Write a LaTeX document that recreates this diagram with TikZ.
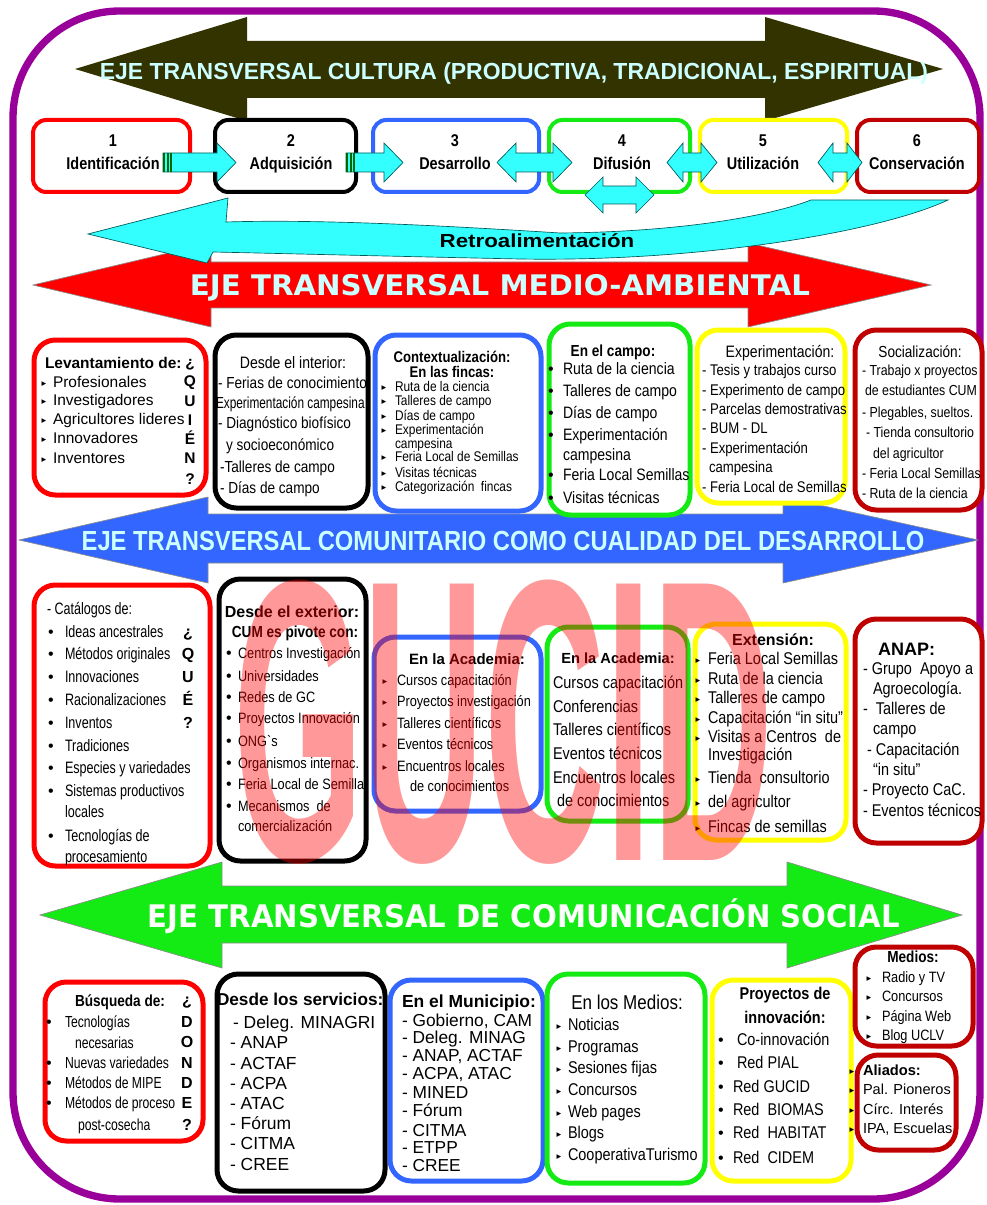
\documentclass[tikz,border=0pt]{standalone}
\usepackage{fontspec}
\usepackage{graphicx}
\setmainfont{Liberation Sans}
\newfontfamily\nar{Liberation Sans}[FakeStretch=0.85]
\newfontfamily\nnar{Liberation Sans}[FakeStretch=0.76]
\newfontfamily\dejavu{DejaVu Sans}
\usetikzlibrary{fit}
\definecolor{myred}{RGB}{255,0,0}
\definecolor{myblue}{RGB}{51,102,255}
\definecolor{mygreen}{RGB}{20,235,20}
\definecolor{myyellow}{RGB}{255,255,0}
\definecolor{mydred}{RGB}{192,0,0}
\definecolor{mypurple}{RGB}{153,0,153}
\definecolor{myolive}{RGB}{51,51,0}
\definecolor{mycyan}{RGB}{51,255,255}
\definecolor{lcyan}{RGB}{204,255,255}
\newcommand\fsz[1]{\fontsize{#1pt}{#1pt}\selectfont}
\newcommand\capfit[3]{\resizebox{#1}{#2}{\smash{#3}\vphantom{E}}}
\newcommand\tri{{\dejavu\fontsize{7pt}{7pt}\selectfont ▸}}
\tikzset{
 txt/.style={anchor=base west, inner sep=0pt, outer sep=0pt},
 ctxt/.style={anchor=base, inner sep=0pt, outer sep=0pt},
 bx/.style={rounded corners=16pt, line width=3.75pt, fill=white, inner sep=0pt},
 pbx/.style={rounded corners=10pt, line width=3pt, fill=white, inner sep=0pt},
 cyarr/.style={fill=mycyan, draw=teal!70!black, line width=0.5pt},
 bigarr/.style={draw=black!45, line width=0.5pt}
}
\newcommand\boxat[7]{%
  \coordinate (#1a) at (#3+2,#4+2); \coordinate (#1b) at (#5-2,#6-2);
  \node[#2, draw=#7, fit=(#1a)(#1b)] (#1) {};}
\newcommand\txtlines[3]{\foreach \xx/\yy/\tx in {#3}{\node[txt, font=#2] (#1-\yy) at (\xx,\yy) {\tx};}}
\newcommand\dotb[3]{\foreach \yy in {#3}{\node[ctxt] (#1-\yy) at (#2,\yy) {\fsz{12}•};}}
\newcommand\trib[3]{\foreach \yy in {#3}{\node[ctxt] (#1-\yy) at (#2,\yy) {\tri};}}
\begin{document}
\begin{tikzpicture}[x=0.75pt, y=-0.75pt]
\useasboundingbox (0,0) rectangle (986,1205);
\fill[white] (0,0) rectangle (986,1205);
% frame
\draw[mypurple, line width=5.5pt, rounded corners=80pt] (13,11) rectangle (980,1199);
% top arrow
\fill[myolive] (75,69) -- (247,17) -- (247,41) -- (765,41) -- (765,17) -- (943,69) -- (765,121) -- (765,98) -- (247,98) -- (247,121) -- cycle;
\node[ctxt, text=lcyan, font=\bfseries] (ejecult) at (514,80) {\capfit{621pt}{12pt}{EJE TRANSVERSAL CULTURA (PRODUCTIVA, TRADICIONAL, ESPIRITUAL)}};
% red arrow
\filldraw[bigarr, fill=myred] (33,285) -- (211,243) -- (211,262) -- (748,262) -- (748,243) -- (931,285) -- (748,327) -- (748,308) -- (211,308) -- (211,327) -- cycle;
\node[ctxt, text=lcyan, font=\dejavu\bfseries] (ejema) at (500,296) {\capfit{465pt}{15.5pt}{EJE TRANSVERSAL MEDIO-AMBIENTAL}};
% blue arrow
\filldraw[bigarr, fill=myblue] (19,540) -- (208,497) -- (208,514) -- (783,514) -- (783,497) -- (978,540) -- (783,583) -- (783,563) -- (208,563) -- (208,583) -- cycle;
\node[ctxt, text=lcyan, font=\bfseries] (ejecom) at (503,550) {\capfit{632pt}{14.25pt}{EJE TRANSVERSAL COMUNITARIO COMO CUALIDAD DEL DESARROLLO}};
% green arrow
\filldraw[bigarr, fill=mygreen] (40,915) -- (222,862) -- (222,886) -- (787,886) -- (787,862) -- (962,915) -- (787,968) -- (787,943) -- (222,943) -- (222,968) -- cycle;
\node[ctxt, text=white, font=\dejavu\bfseries] (ejecs) at (524,927) {\capfit{564pt}{17pt}{EJE TRANSVERSAL DE COMUNICACIÓN SOCIAL}};

% row 1 process boxes
\boxat{p1}{pbx}{31}{118}{192}{194}{myred}
\boxat{p2}{pbx}{213}{118}{358}{194}{black}
\boxat{p3}{pbx}{371}{118}{541}{194}{myblue}
\boxat{p4}{pbx}{547}{118}{692}{194}{mygreen}
\boxat{p5}{pbx}{698}{118}{849}{194}{myyellow}
\boxat{p6}{pbx}{855}{118}{981}{194}{mydred}
\foreach \nm/\xc/\lab in {1/113/Identificación, 2/291/Adquisición, 3/455/Desarrollo, 4/622/Difusión, 5/763/Utilización, 6/917/Conservación}{
  \node[ctxt, font=\nar\bfseries\fsz{12.75}] (n\nm) at (\xc,147) {\nm};
  \node[ctxt, font=\nar\bfseries\fsz{12.75}] (l\nm) at (\xc,170) {\lab};
}
% retroalimentacion
\filldraw[cyarr] (948,200) .. controls (880,232) and (700,262) .. (520,259) .. controls (380,256) and (260,253) .. (213,252) -- (207,263) -- (88,234) -- (228,198) -- (226,222) .. controls (320,219) and (450,226) .. (560,233) .. controls (680,232) and (770,216) .. (811,200) -- cycle;
\node[ctxt, font=\nar\bfseries] (retro) at (537,248) {\capfit{146pt}{9.75pt}{Retroalimentación}};
% cyan arrows row 1
\filldraw[cyarr] (163,153) -- (217,153) -- (217,143) -- (236,162.5) -- (217,182) -- (217,172) -- (163,172) -- cycle;
\filldraw[cyarr] (346,153) -- (384,153) -- (384,143) -- (403,162.5) -- (384,182) -- (384,172) -- (346,172) -- cycle;
\foreach \i in {0,1,2}{\fill[green!40!black] (163+\i*3.5,153) rectangle ++(2,19); \fill[green!40!black] (346+\i*3.5,153) rectangle ++(2,19);}
\filldraw[cyarr] (497,162.5) -- (516,143) -- (516,153) -- (553,153) -- (553,143) -- (572,162.5) -- (553,182) -- (553,172) -- (516,172) -- (516,182) -- cycle;
\filldraw[cyarr] (667,162.5) -- (683,143) -- (683,153) -- (701,153) -- (701,143) -- (717,162.5) -- (701,182) -- (701,172) -- (683,172) -- (683,182) -- cycle;
\filldraw[cyarr] (818,162.5) -- (833,143) -- (833,153) -- (847,153) -- (847,143) -- (862,162.5) -- (847,182) -- (847,172) -- (833,172) -- (833,182) -- cycle;
\filldraw[cyarr] (585,195) -- (603,177) -- (603,186) -- (636,186) -- (636,177) -- (654,195) -- (636,213) -- (636,204) -- (603,204) -- (603,213) -- cycle;

% ===== row 2 =====
\boxat{b21}{bx}{32}{338}{208}{497}{myred}
\boxat{b22}{bx}{213}{333}{370}{510}{black}
\boxat{b23}{bx}{373}{333}{543}{513}{myblue}
\boxat{b24}{bx}{547}{322}{692}{517}{mygreen}
\boxat{b25}{bx}{695}{328}{847}{505}{myyellow}
\boxat{b26}{bx}{853}{328}{984}{512}{mydred}
\node[txt, font=\bfseries\fsz{11.6}] (t21) at (45,368) {Levantamiento de:};
\txtlines{r21}{\fsz{11.6}}{53/387/Profesionales, 53/405/Investigadores, 53/424/Agricultores lideres, 53/443/Innovadores, 53/463/Inventores}
\trib{r21b}{44}{386,404,423,442,462}
\foreach \yy/\ch in {367/¿, 386/Q, 406/U, 425/I, 444/É, 463/N, 484/?}{\node[ctxt, font=\bfseries\fsz{11.6}] (q21-\yy) at (190,\yy) {\ch};}

\node[ctxt, font=\nar\fsz{12.4}] (t22) at (293,368) {Desde el interior:};
\txtlines{r22}{\nar\fsz{12}}{218/388/{- Ferias de conocimiento}, 216/408/{\scalebox{0.87}[1]{Experimentación campesina}}, 218/428/{- Diagnóstico biofísico}, 226/450/{y socioeconómico}, 220/472/{-Talleres de campo}, 220/493/{- Días de campo}}

\node[ctxt, font=\nar\bfseries\fsz{11.6}] (t23a) at (452,362) {Contextualización:};
\node[ctxt, font=\nar\bfseries\fsz{11.6}] (t23b) at (452,377) {En las fincas:};
\txtlines{r23}{\nar\fsz{10.5}}{395/391/Ruta de la ciencia, 395/405/Talleres de campo, 395/420/Días de campo, 395/434/Experimentación, 395/448/campesina, 395/461/Feria Local de Semillas, 395/477/Visitas técnicas, 395/491/Categorización\ \ fincas}
\trib{r23b}{384}{390,404,419,433,460,476,490}

\node[ctxt, font=\nar\bfseries\fsz{12}] (t24) at (613,356) {En el campo:};
\txtlines{r24}{\nar\fsz{12.4}}{563/374/Ruta de la ciencia, 563/396/Talleres de campo, 563/418/Días de campo, 563/440/Experimentación, 563/460/campesina, 563/480/Feria Local Semillas, 563/503/Visitas técnicas}
\dotb{r24b}{551}{374,396,418,440,480,503}

\node[ctxt, font=\nar\fsz{12.4}] (t25) at (780,357) {Experimentación:};
\txtlines{r25}{\nar\fsz{11.6}}{702/375/{- Tesis y trabajos curso}, 702/395/{- Experimento de campo}, 702/414/{- Parcelas demostrativas}, 702/433/{- BUM - DL}, 702/453/{- Experimentación}, 709/472/campesina, 702/492/{- Feria Local de Semillas}}

\node[ctxt, font=\nar\fsz{12}] (t26) at (920,357) {Socialización:};
\txtlines{r26}{\nar\fsz{10.9}}{862/375/{- Trabajo x proyectos}, 865/395/{de estudiantes CUM}, 862/417/{- Plegables, sueltos.}, 866/437/{- Tienda consultorio}, 873/458/{del agricultor}, 862/478/{- Feria Local Semillas}, 862/498/{- Ruta de la ciencia}}

% ===== row 3 =====
\boxat{b31}{bx}{32}{583}{212}{868}{myred}
\boxat{b32}{bx}{217}{577}{368}{863}{black}
\boxat{b33}{bx}{372}{635}{543}{813}{myblue}
\boxat{b34}{bx}{545}{625}{690}{823}{mygreen}
\boxat{b35}{bx}{693}{622}{848}{842}{myyellow}
\boxat{b36}{bx}{853}{617}{984}{845}{mydred}
\txtlines{r31}{\nnar\fsz{12.4}}{47/614/{- Catálogos de:}, 65/637/Ideas ancestrales, 65/659/Métodos originales, 65/682/Innovaciones, 65/705/Racionalizaciones, 65/728/Inventos, 65/751/Tradiciones, 65/773/Especies y variedades, 65/796/Sistemas productivos, 65/817/locales, 65/841/Tecnologías de, 65/862/procesamiento}
\dotb{r31b}{51}{637,659,682,705,728,751,773,796,841}
\foreach \yy/\ch in {637/¿, 659/Q, 682/U, 705/É, 728/?}{\node[ctxt, font=\bfseries\fsz{12}] (q31-\yy) at (188,\yy) {\ch};}

\node[ctxt, font=\bfseries\fsz{12}] (t32a) at (292,617) {Desde el exterior:};
\node[ctxt, font=\nar\bfseries\fsz{12}] (t32b) at (295,637) {CUM es pivote con:};
\txtlines{r32}{\nar\fsz{11.25}}{238/658/Centros Investigación, 238/681/Universidades, 238/702/Redes de GC, 238/723/Proyectos Innovación, 238/746/ONG`s, 238/768/Organismos internac., 238/789/Feria Local de Semilla, 238/811/Mecanismos\ \ de, 238/831/comercialización}
\dotb{r32b}{229}{658,681,702,723,746,768,789,811}

\node[ctxt, font=\bfseries\fsz{11.25}] (t33) at (467,664) {En la Academia:};
\txtlines{r33}{\nar\fsz{11.25}}{397/685/Cursos capacitación, 397/706/Proyectos investigación, 397/728/Talleres científicos, 397/749/Eventos técnicos, 397/771/Encuentros locales, 410/791/de conocimientos}
\trib{r33b}{385}{684,705,727,748,770}

\node[ctxt, font=\bfseries\fsz{11}] (t34) at (618,663) {En la Academia:};
\txtlines{r34}{\nar\fsz{12.75}}{553/688/Cursos capacitación, 553/712/Conferencias, 553/735/Talleres científicos, 553/759/Eventos técnicos, 553/783/Encuentros locales, 557/806/de conocimientos}

\node[ctxt, font=\bfseries\fsz{12}] (t35) at (773,645) {Extensión:};
\txtlines{r35}{\nar\fsz{12.75}}{708/664/Feria Local Semillas, 708/684/Ruta de la ciencia, 708/703/Talleres de campo, 708/723/Capacitación “in situ”, 708/742/Visitas a Centros\ \ de, 708/760/Investigación, 708/783/Tienda\ \ consultorio, 708/807/del agricultor, 708/832/Fincas de semillas}
\trib{r35b}{698}{663,683,702,722,741,782,806,831}

\node[txt, font=\bfseries\fsz{13.5}] (t36) at (878,655) {ANAP:};
\txtlines{r36}{\nar\fsz{12.75}}{863/674/{- Grupo\ \ Apoyo a}, 873/694/Agroecología., 863/714/{-\ \ Talleres de}, 873/734/campo, 867/755/{- Capacitación}, 873/775/“in situ”, 863/795/{- Proyecto CaC.}, 863/816/{- Eventos técnicos}}

% ===== row 4 =====
\boxat{b41}{bx}{43}{980}{205}{1143}{myred}
\boxat{b42}{bx}{215}{972}{387}{1193}{black}
\boxat{b43}{bx}{388}{978}{545}{1183}{myblue}
\boxat{b44}{bx}{545}{972}{707}{1185}{mygreen}
\boxat{b45}{bx}{710}{978}{853}{1183}{myyellow}
\boxat{b46}{bx}{853}{945}{975}{1048}{mydred}
\boxat{b47}{bx}{855}{1053}{958}{1152}{mydred}

\node[ctxt, font=\nar\bfseries\fsz{12}] (t41) at (120,1006) {Búsqueda de:};
\txtlines{r41}{\nnar\fsz{12}}{65/1027/Tecnologías, 75/1048/necesarias, 65/1068/Nuevas variedades, 65/1088/Métodos de MIPE, 65/1108/Métodos de proceso, 78/1130/post-cosecha}
\dotb{r41b}{49}{1027,1068,1088,1108}
\foreach \yy/\ch in {1005/¿, 1027/D, 1047/O, 1068/N, 1088/D, 1108/E, 1130/?}{\node[ctxt, font=\bfseries\fsz{12}] (q41-\yy) at (187,\yy) {\ch};}

\node[txt, font=\bfseries\fsz{12.9}] (t42) at (217,1005) {Desde los servicios:};
\txtlines{r42}{\fsz{13.1}}{233/1028/{- Deleg. MINAGRI}, 230/1048/{- ANAP}, 230/1069/{- ACTAF}, 230/1089/{- ACPA}, 230/1109/{- ATAC}, 230/1129/{- Fórum}, 230/1149/{- CITMA}, 230/1170/{- CREE}}

\node[txt, font=\bfseries\fsz{13.1}] (t43) at (402,1007) {En el Municipio:};
\txtlines{r43}{\fsz{13}}{402/1026/{- Gobierno, CAM}, 402/1043/{- Deleg. MINAG}, 402/1061/{- ANAP, ACTAF}, 402/1079/{- ACPA, ATAC}, 402/1098/{- MINED}, 402/1116/{- Fórum}, 402/1136/{- CITMA}, 402/1153/{- ETPP}, 402/1171/{- CREE}}

\node[ctxt, font=\nar\fsz{15}] (t44) at (627,1009) {En los Medios:};
\txtlines{r44}{\nar\fsz{12.75}}{568/1030/Noticias, 568/1052/Programas, 568/1073/Sesiones fijas, 568/1095/Concursos, 568/1117/Web pages, 568/1138/Blogs, 568/1160/CooperativaTurismo}
\trib{r44b}{559}{1029,1051,1072,1094,1116,1137,1159}

\node[ctxt, font=\nar\bfseries\fsz{12.75}] (t45a) at (785,999) {Proyectos de};
\node[ctxt, font=\nar\bfseries\fsz{12.75}] (t45b) at (785,1023) {innovación:};
\txtlines{r45}{\nar\fsz{12.75}}{737/1045/Co-innovación, 737/1068/Red PIAL, 733/1092/Red GUCID, 733/1115/Red\ \ BIOMAS, 733/1138/Red\ \ HABITAT, 733/1163/Red\ \ CIDEM}
\dotb{r45b}{721}{1045,1068,1092,1115,1138,1163}

\node[ctxt, font=\nar\bfseries\fsz{12}] (t46) at (913,962) {Medios:};
\txtlines{r46}{\nar\fsz{11.25}}{882/982/Radio y TV, 882/1001/Concursos, 882/1021/Página Web, 882/1040/Blog UCLV}
\trib{r46b}{869}{981,1000,1020,1039}

\node[txt, font=\bfseries\fsz{11}] (t47) at (863,1075) {Aliados:};
\txtlines{r47}{\fsz{10.9}}{863/1094/Pal. Pioneros, 863/1114/Círc. Interés, 863/1133/{IPA, Escuelas}}
\trib{r47b}{852}{1074,1093,1113,1132}

% watermark
\node[txt, text=red, opacity=0.4, font=\bfseries] (gucid) at (233,860) {\resizebox{405pt}{210pt}{GUCID}};
\end{tikzpicture}
\end{document}
